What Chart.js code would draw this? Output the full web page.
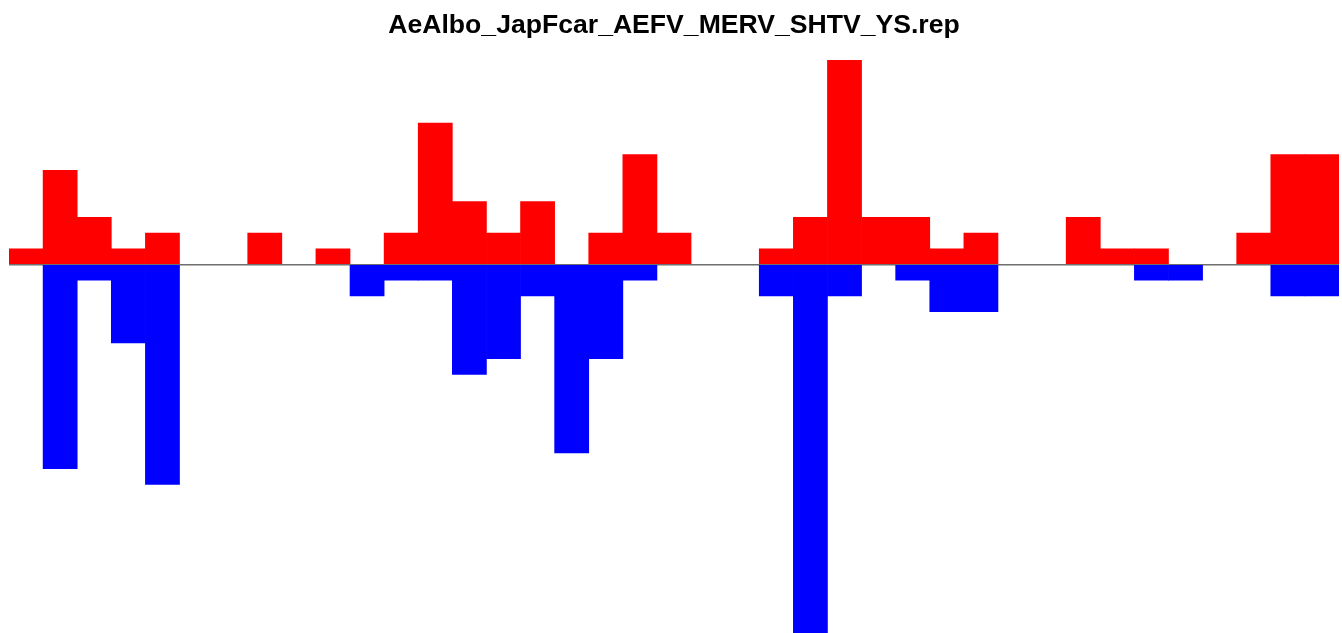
<!DOCTYPE html>
<html lang="en">

<head>
	<meta charset="UTF-8">
	<title>AeAlbo_JapFcar_AEFV_MERV_SHTV_YS.rep</title>
	<script src="https://cdn.jsdelivr.net/npm/chart.js"></script>
	<style>
		body { margin: 0; background: #fff; }
		.wrap { width: 1342px; height: 633px; }
	</style>
</head>

<body>
	<div class="wrap">
		<canvas id="repChart"></canvas>
	</div>

	<script type="text/javascript">

		// one bin per position along the sequence
		var bins = [];
		for (let i = 1; i <= 39; i++) bins.push(String(i));

		// counts above the axis (red)
		var upCounts = [1, 6, 3, 1, 2, 0, 0, 2, 0, 1, 0, 2, 9, 4, 2, 4, 0, 2, 7, 2,
			0, 0, 1, 3, 13, 3, 3, 1, 2, 0, 0, 3, 1, 1, 0, 0, 2, 7, 7];

		// counts below the axis (blue), stored as negatives
		var downCounts = [0, -13, -1, -5, -14, 0, 0, 0, 0, 0, -2, -1, -1, -7, -6, -2, -12, -6, -1, 0,
			0, 0, -2, -24, -2, 0, -1, -3, -3, 0, 0, 0, 0, -1, -1, 0, 0, -2, -2];

		// empty bins should not leave a hairline on the axis
		function noZero(arr) {
			return arr.map(function (v) { return v === 0 ? null : v; });
		}

		var ctx = document.getElementById('repChart').getContext('2d');

		var myChart = new Chart(ctx, {
			type: 'bar',
			data: {
				labels: bins,
				datasets: [{
					label: 'up',
					data: noZero(upCounts),
					backgroundColor: '#ff0000',
					borderWidth: 0,
					categoryPercentage: 1.0,
					barPercentage: 1.0
				}, {
					label: 'down',
					data: noZero(downCounts),
					backgroundColor: '#0000ff',
					borderWidth: 0,
					categoryPercentage: 1.0,
					barPercentage: 1.0
				}]
			},
			options: {
				responsive: true,
				maintainAspectRatio: false,
				animation: false,
				layout: {
					padding: { left: 9, right: 3, top: 0, bottom: 0 }
				},
				plugins: {
					legend: { display: false },
					tooltip: { enabled: false },
					title: {
						display: true,
						text: 'AeAlbo_JapFcar_AEFV_MERV_SHTV_YS.rep',
						color: '#000',
						font: { family: 'Liberation Sans, Arial, sans-serif', size: 26.6, weight: 'bold' },
						padding: { top: 9.2, bottom: 8.9 }
					}
				},
				scales: {
					x: {
						stacked: true,
						display: false
					},
					y: {
						stacked: true,
						min: -23.47,
						max: 13.66,
						display: true,
						border: { display: false },
						ticks: { display: false },
						grid: {
							drawTicks: false,
							lineWidth: 1.5,
							color: function (c) {
								return c.tick && c.tick.value === 0 ? '#6e6e6e' : 'rgba(0,0,0,0)';
							}
						}
					}
				}
			}
		});
	</script>

</body>

</html>
